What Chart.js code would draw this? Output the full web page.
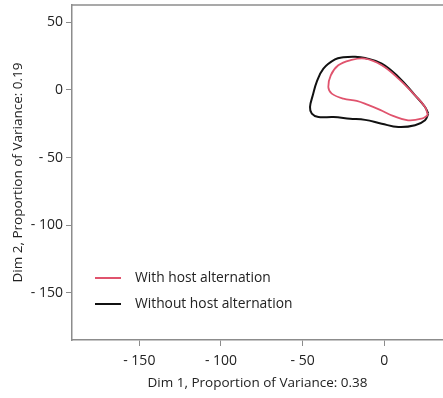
<!DOCTYPE html>
<html lang="en">
<head>
    <meta charset="UTF-8">
    <title>Ordination contours</title>
    <style>
        body { margin: 0; background: white; }
        #wrap { width: 443px; height: 398px; }
    </style>
    <script src="https://cdn.jsdelivr.net/npm/chart.js"></script>
</head>
<body>
    <div id="wrap"><canvas id="pcaChart" width="443" height="398"></canvas></div>

    <script>
        // contour outlines (Dim 1, Dim 2), starting at the right-hand tip
        const withHostX = [26.6, 22.9, 14.5, 5.3, -2.6, -10.0, -16.9, -25.1, -32.2, -34.3, -32.8, -28.2, -21.0, -11.8, -1.6, 8.6, 18.8, 24.9, 26.6];
        const withHostY = [-18.8, -21.3, -22.5, -19.2, -14.8, -11.1, -8.1, -6.5, -2.8, 2.1, 10.7, 18.1, 21.8, 23.0, 18.1, 8.3, -4.1, -12.7, -18.8];
        const withoutHostX = [26.9, 24.9, 18.8, 8.6, -1.6, -11.8, -21.0, -31.2, -40.4, -44.4, -45.5, -43.8, -41.4, -37.3, -30.2, -25.1, -17.9, -11.8, -1.6, 8.6, 18.8, 24.9, 26.9];
        const withoutHostY = [-17.6, -22.5, -26.2, -27.5, -25.0, -22.2, -21.3, -20.1, -20.1, -17.6, -12.7, -4.1, 5.8, 15.7, 22.5, 24.0, 24.4, 23.5, 19.4, 9.5, -4.1, -12.7, -17.6];

        const xTicks = [-150, -100, -50, 0];
        const yTicks = [-150, -100, -50, 0, 50];
        const labels = ['With host alternation', 'Without host alternation'];

        const axisGray = '#8c8c8c';
        const fontFam = '"Open Sans", sans-serif';

        function toPoints(xs, ys) {
            return xs.map((x, i) => ({ x: x, y: ys[i] }));
        }

        function tickText(v) {
            return v < 0 ? '- ' + Math.abs(v) : String(v);
        }

        // top frame line + legend inside the plot
        const extras = {
            id: 'extras',
            afterDraw(chart) {
                const { ctx, chartArea } = chart;
                ctx.save();
                ctx.strokeStyle = axisGray;
                ctx.lineWidth = 1.5;
                ctx.beginPath();
                ctx.moveTo(chartArea.left, chartArea.top);
                ctx.lineTo(chartArea.right, chartArea.top);
                ctx.stroke();

                ctx.font = '13.8px ' + fontFam;
                ctx.textBaseline = 'middle';
                ctx.fillStyle = '#222';
                chart.data.datasets.forEach((ds, i) => {
                    const y = 278 + i * 26;
                    ctx.strokeStyle = ds.borderColor;
                    ctx.lineWidth = 2;
                    ctx.beginPath();
                    ctx.moveTo(95, y);
                    ctx.lineTo(121, y);
                    ctx.stroke();
                    ctx.fillText(ds.label, 135, y);
                });
                ctx.restore();
            }
        };

        new Chart(document.getElementById('pcaChart'), {
            type: 'scatter',
            data: {
                datasets: [
                    {
                        label: labels[0],
                        data: toPoints(withHostX, withHostY),
                        showLine: true,
                        borderColor: '#e0536d',
                        borderWidth: 1.8,
                        pointRadius: 0,
                        tension: 0.4,
                        fill: false
                    },
                    {
                        label: labels[1],
                        data: toPoints(withoutHostX, withoutHostY),
                        showLine: true,
                        borderColor: '#111111',
                        borderWidth: 2,
                        pointRadius: 0,
                        tension: 0.4,
                        fill: false
                    }
                ]
            },
            options: {
                responsive: false,
                animation: false,
                layout: { padding: { top: 5, right: 0, left: 0, bottom: 0 } },
                plugins: {
                    legend: { display: false },
                    tooltip: { enabled: false }
                },
                scales: {
                    x: {
                        type: 'linear',
                        min: -191.2,
                        max: 35.9,
                        afterBuildTicks: s => { s.ticks = xTicks.map(v => ({ value: v })); },
                        afterFit: s => { s.height = 58; s.paddingLeft = 0; s.paddingRight = 0; },
                        border: { display: true, color: axisGray, width: 1.5 },
                        grid: { drawOnChartArea: false, drawTicks: true, tickLength: 6, color: axisGray },
                        ticks: {
                            padding: 7,
                            color: '#222',
                            font: { family: fontFam, size: 14 },
                            maxRotation: 0,
                            callback: v => tickText(v)
                        },
                        title: {
                            display: true,
                            text: 'Dim 1, Proportion of Variance: 0.38',
                            color: '#222',
                            font: { family: fontFam, size: 13.5 },
                            padding: { top: 0, bottom: 7 }
                        }
                    },
                    y: {
                        type: 'linear',
                        min: -184.7,
                        max: 62.6,
                        afterBuildTicks: s => { s.ticks = yTicks.map(v => ({ value: v })); },
                        afterFit: s => { s.width = 72; s.paddingTop = 0; s.paddingBottom = 0; },
                        border: { display: true, color: axisGray, width: 1.5 },
                        grid: { drawOnChartArea: false, drawTicks: true, tickLength: 6, color: axisGray },
                        ticks: {
                            padding: 3,
                            color: '#222',
                            font: { family: fontFam, size: 14 },
                            callback: v => tickText(v)
                        },
                        title: {
                            display: true,
                            text: 'Dim 2, Proportion of Variance: 0.19',
                            color: '#222',
                            font: { family: fontFam, size: 13.5 },
                            padding: { top: 10, bottom: 0 }
                        }
                    }
                }
            },
            plugins: [extras]
        });
    </script>
</body>
</html>
